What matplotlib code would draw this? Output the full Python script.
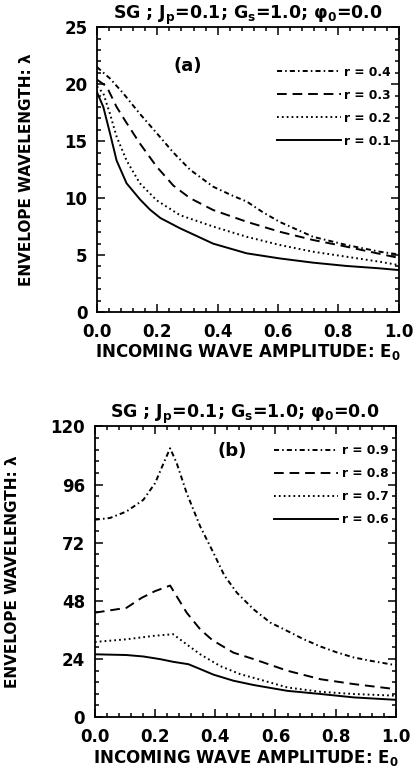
import matplotlib
matplotlib.use("Agg")
import matplotlib.pyplot as plt
from matplotlib.ticker import MultipleLocator, FormatStrFormatter

plt.rcParams['font.family'] = ['DejaVu Sans']
plt.rcParams['font.weight'] = 'bold'
plt.rcParams['mathtext.fontset'] = 'dejavusans'
plt.rcParams['mathtext.default'] = 'bf'

TITLE = 'SG ; J$_{p}$=0.1; G$_{s}$=1.0; φ$_{0}$=0.0'
XLABEL = 'INCOMING WAVE AMPLITUDE: E$_{0}$'
YLABEL = 'ENVELOPE WAVELENGTH: λ'

# panel (a): r = 0.1 .. 0.4
a_r01_x = [0.0, 0.021, 0.043, 0.065, 0.098, 0.142, 0.175, 0.21, 0.275, 0.385, 0.496, 0.606, 0.716, 0.827, 0.937, 1.0]
a_r01_y = [19.3, 18.0, 15.7, 13.3, 11.3, 9.9, 9.0, 8.25, 7.35, 6.0, 5.15, 4.7, 4.33, 4.04, 3.83, 3.68]
a_r02_x = [0.0, 0.021, 0.043, 0.065, 0.098, 0.142, 0.198, 0.275, 0.385, 0.496, 0.606, 0.716, 0.827, 0.937, 1.0]
a_r02_y = [19.8, 19.2, 17.4, 15.4, 13.3, 11.3, 9.8, 8.5, 7.5, 6.6, 5.88, 5.29, 4.85, 4.41, 4.12]
a_r03_x = [0.0, 0.032, 0.065, 0.098, 0.142, 0.198, 0.253, 0.308, 0.385, 0.496, 0.606, 0.716, 0.827, 0.937, 1.0]
a_r03_y = [20.4, 19.8, 18.0, 16.6, 14.8, 12.75, 11.1, 10.0, 8.95, 7.92, 7.04, 6.32, 5.73, 5.1, 4.75]
a_r04_x = [0.0, 0.043, 0.087, 0.142, 0.198, 0.253, 0.308, 0.385, 0.45, 0.496, 0.55, 0.606, 0.716, 0.827, 0.937, 1.0]
a_r04_y = [21.5, 20.5, 19.2, 17.4, 15.7, 14.0, 12.5, 11.0, 10.2, 9.7, 8.75, 7.9, 6.6, 5.88, 5.29, 5.05]

# panel (b): r = 0.6 .. 0.9
b_r06_x = [0.0, 0.105, 0.161, 0.217, 0.26, 0.311, 0.35, 0.394, 0.46, 0.528, 0.64, 0.75, 0.86, 1.0]
b_r06_y = [25.9, 25.6, 25.0, 23.9, 22.8, 21.8, 19.8, 17.5, 15.0, 13.2, 10.8, 9.5, 8.1, 7.1]
b_r07_x = [0.0, 0.105, 0.194, 0.26, 0.305, 0.35, 0.417, 0.483, 0.55, 0.64, 0.75, 0.86, 1.0]
b_r07_y = [31.0, 32.1, 33.5, 34.2, 30.0, 25.9, 21.0, 17.7, 15.4, 12.2, 10.4, 9.5, 8.8]
b_r08_x = [0.0, 0.105, 0.155, 0.2, 0.25, 0.305, 0.35, 0.39, 0.417, 0.46, 0.528, 0.64, 0.75, 0.86, 1.0]
b_r08_y = [43.1, 45.1, 49.2, 52.0, 54.3, 43.1, 36.2, 31.8, 29.8, 26.6, 23.9, 19.1, 15.6, 13.6, 11.5]
b_r09_x = [0.0, 0.05, 0.105, 0.161, 0.2, 0.233, 0.25, 0.272, 0.305, 0.35, 0.394, 0.43, 0.472,
           0.528, 0.583, 0.64, 0.694, 0.75, 0.806, 0.86, 0.917, 1.0]
b_r09_y = [81.5, 82.2, 84.9, 89.7, 96.6, 106.2, 111.0, 104.8, 92.5, 78.7, 67.8, 58.5, 51.3,
           44.4, 39.0, 35.5, 32.1, 29.1, 26.6, 24.6, 23.2, 21.4]

# line styles, lowest r first
STYLES = [
    dict(linestyle='-'),
    dict(linestyle=(0, (0.9, 1.6))),
    dict(linestyle=(0, (5, 3))),
    dict(linestyle=(0, (2.6, 1.6, 0.8, 1.6))),
]
LW = 1.4


def style_axes(ax, ymax, ymajor, yminor):
    ax.set_xlim(0, 1)
    ax.set_ylim(0, ymax)
    ax.xaxis.set_major_locator(MultipleLocator(0.2))
    ax.xaxis.set_minor_locator(MultipleLocator(0.04))
    ax.yaxis.set_major_locator(MultipleLocator(ymajor))
    ax.yaxis.set_minor_locator(MultipleLocator(yminor))
    ax.xaxis.set_major_formatter(FormatStrFormatter('%.1f'))
    ax.yaxis.set_major_formatter(FormatStrFormatter('%d'))
    ax.tick_params(which='both', direction='in', top=True, right=True, width=1.1)
    ax.tick_params(which='major', length=6, labelsize=12)
    ax.tick_params(which='minor', length=3)
    ax.tick_params(axis='x', pad=8)
    ax.tick_params(axis='y', pad=7)
    for s in ax.spines.values():
        s.set_linewidth(1.3)
    ax.set_title(TITLE, fontsize=12.5, fontweight='bold', pad=5)
    ax.set_xlabel(XLABEL, fontsize=12, fontweight='bold', labelpad=1)


def add_legend(ax, handles, labels, top):
    ax.legend(handles[::-1], labels[::-1], loc='upper right', bbox_to_anchor=(0.975, top),
              frameon=False, handlelength=5.2, handletextpad=0.3, labelspacing=0.82,
              borderpad=0, borderaxespad=0, prop=dict(size=8.8, weight='bold'))


fig = plt.figure(figsize=(4.18, 7.78), dpi=100)

# panel (a)
ax1 = fig.add_axes([0.232, 0.599, 0.722, 0.366])
series_a = [(a_r01_x, a_r01_y, 'r = 0.1'), (a_r02_x, a_r02_y, 'r = 0.2'),
            (a_r03_x, a_r03_y, 'r = 0.3'), (a_r04_x, a_r04_y, 'r = 0.4')]
hs, ls = [], []
for (x, y, lab), st in zip(series_a, STYLES):
    h, = ax1.plot(x, y, color='black', lw=LW, **st)
    hs.append(h)
    ls.append(lab)
style_axes(ax1, 25, 5, 1)
ax1.set_ylabel(YLABEL, fontsize=11, fontweight='bold')
ax1.yaxis.set_label_coords(-0.21, 0.5)
ax1.text(0.3, 0.865, '(a)', transform=ax1.transAxes, fontsize=13, fontweight='bold',
         ha='center', va='center')
add_legend(ax1, hs, ls, 0.865)

# panel (b)
ax2 = fig.add_axes([0.227, 0.0784, 0.720, 0.3734])
series_b = [(b_r06_x, b_r06_y, 'r = 0.6'), (b_r07_x, b_r07_y, 'r = 0.7'),
            (b_r08_x, b_r08_y, 'r = 0.8'), (b_r09_x, b_r09_y, 'r = 0.9')]
hs, ls = [], []
for (x, y, lab), st in zip(series_b, STYLES):
    h, = ax2.plot(x, y, color='black', lw=LW, **st)
    hs.append(h)
    ls.append(lab)
style_axes(ax2, 120, 24, 4.8)
ax2.set_ylabel(YLABEL, fontsize=11, fontweight='bold')
ax2.yaxis.set_label_coords(-0.25, 0.5)
ax2.text(0.455, 0.915, '(b)', transform=ax2.transAxes, fontsize=13, fontweight='bold',
         ha='center', va='center')
add_legend(ax2, hs, ls, 0.94)

fig.savefig('out.png', dpi=100)
